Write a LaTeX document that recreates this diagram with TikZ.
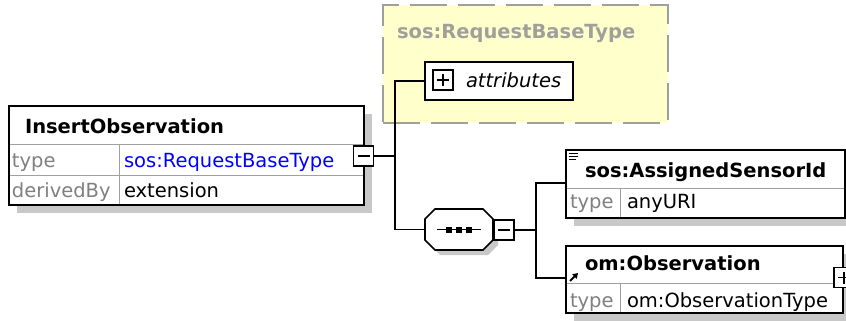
\documentclass[tikz,border=0pt]{standalone}
\usepackage{fontspec}
\setmainfont{DejaVu Sans}
\usetikzlibrary{positioning, arrows.meta, shadows, calc}

\definecolor{shadowgray}{RGB}{200,200,200}
\definecolor{gridgray}{RGB}{160,160,160}
\definecolor{labelgray}{RGB}{128,128,128}
\definecolor{typeblue}{RGB}{0,0,255}
\definecolor{groupyellow}{RGB}{255,255,204}
\definecolor{groupgray}{RGB}{160,160,155}

% octagon round a node, corners cut by \cut
\newcommand{\octpath}[1]{($(#1.north west)+(\cut,0)$) -- ($(#1.north east)+(-\cut,0)$)
    -- ($(#1.north east)+(0,\cut)$) -- ($(#1.south east)+(0,-\cut)$)
    -- ($(#1.south east)+(-\cut,0)$) -- ($(#1.south west)+(\cut,0)$)
    -- ($(#1.south west)+(0,-\cut)$) -- ($(#1.north west)+(0,\cut)$) -- cycle}

\begin{document}
\begin{tikzpicture}[x=1pt, y=-1pt,
    every node/.style={font=\fontsize{19.5}{22}\selectfont, inner sep=0pt, outer sep=0pt},
    txt/.style={anchor=base west},
    elem/.style={rectangle, anchor=north west, draw=black, line width=1.6pt, fill=white,
        drop shadow={shadow xshift=8pt, shadow yshift=-8pt, fill=shadowgray, opacity=1}},
    grid/.style={draw=gridgray, line width=1pt, shorten <=0.8pt, shorten >=0.8pt},
    wire/.style={draw=black, line width=1.6pt},
    group/.style={rectangle, anchor=north west, draw=groupgray, fill=groupyellow,
        line width=1.6pt, dash pattern=on 37pt off 11pt},
    seqbox/.style={rectangle, minimum width=68pt, minimum height=41pt},
    toggle/.style={rectangle, draw=black, fill=white, line width=1.6pt, minimum size=20pt},
    minus/.style={toggle, path picture={
        \draw[line width=1.4pt] ([xshift=-6pt]path picture bounding box.center) -- ([xshift=6pt]path picture bounding box.center);}},
    plus/.style={toggle, path picture={
        \draw[line width=1.4pt] ([xshift=-6pt]path picture bounding box.center) -- ([xshift=6pt]path picture bounding box.center);
        \draw[line width=1.4pt] ([yshift=-6pt]path picture bounding box.center) -- ([yshift=6pt]path picture bounding box.center);}}
]
    \useasboundingbox (0,0) rectangle (846,321);
    \def\cut{10}

    % base type group
    \node[group, minimum width=285pt, minimum height=118pt] (base) at (383,5) {};
    \node[txt, text=groupgray] (basename) at (397,39) {\bfseries sos:RequestBaseType};
    \node[rectangle, anchor=north west, draw=black, fill=white, line width=1.6pt,
        minimum width=148pt, minimum height=38pt] (attr) at (425,62) {};
    \node[plus] (attrplus) at (443,80) {};
    \node[txt] (attrname) at (466,88) {\itshape attributes};

    % InsertObservation element
    \node[elem, minimum width=355pt, minimum height=99pt] (ins) at (9,106) {};
    \draw[grid] ($(ins.north west)+(0,38)$) -- ($(ins.north east)+(0,38)$);
    \draw[grid] ($(ins.north west)+(0,69)$) -- ($(ins.north east)+(0,69)$);
    \draw[grid] ($(ins.north west)+(110,38)$) -- ($(ins.south west)+(110,0)$);
    \node[txt] (insname) at (25,133) {\bfseries InsertObservation};
    \node[txt, text=labelgray] (instype) at (12,167) {type};
    \node[txt, text=typeblue] (instypeval) at (124,167) {sos:RequestBaseType};
    \node[txt, text=labelgray] (insderived) at (12,197) {derivedBy};
    \node[txt] (insderivedval) at (124,197) {extension};
    \node[minus] (insminus) at (363.5,156) {};

    % sequence compositor (octagon with its shadow)
    \node[seqbox] (seqshadow) at (464,234.5) {};
    \node[seqbox] (seq) at (459,229.5) {};
    \fill[shadowgray] \octpath{seqshadow};
    \draw[fill=white, line width=1.6pt] \octpath{seq};
    \draw[line width=1.6pt] ($(seq.center)+(-22,0)$) -- ($(seq.center)+(22,0)$);
    \foreach \dx in {-10,0,10}
    {
        \fill ($(seq.center)+(\dx-3,-3)$) rectangle +(6,6);
    }
    \node[minus] (seqminus) at (504,230) {};

    % child elements
    \node[elem, minimum width=279pt, minimum height=68pt] (sid) at (566,150) {};
    \draw[grid] ($(sid.north west)+(0,38)$) -- ($(sid.north east)+(0,38)$);
    \draw[grid] ($(sid.north west)+(54,38)$) -- ($(sid.south west)+(54,0)$);
    \foreach \y/\len in {153/9,156/9,159/7}
    {
        \draw[line width=1pt] (569,\y) -- +(\len,0);
    }
    \node[txt] (sidname) at (585,177) {\bfseries sos:AssignedSensorId};
    \node[txt, text=labelgray] (sidtype) at (570,208) {type};
    \node[txt] (sidtypeval) at (627,208) {anyURI};

    \node[elem, minimum width=277pt, minimum height=67pt] (obs) at (566,246) {};
    \draw[grid] ($(obs.north west)+(0,37)$) -- ($(obs.north east)+(0,37)$);
    \draw[grid] ($(obs.north west)+(54,37)$) -- ($(obs.south west)+(54,0)$);
    \draw[line width=1.8pt, -{Triangle[length=5pt, width=6pt]}] (570,281) -- (578,273);
    \node[txt] (obsname) at (585,270) {\bfseries om:Observation};
    \node[txt, text=labelgray] (obstype) at (570,307) {type};
    \node[txt] (obstypeval) at (627,307) {om:ObservationType};
    \node[plus] (obsplus) at (844,277.5) {};

    % connectors
    \coordinate (split) at (395,156);
    \coordinate (fork) at (536,230);
    \draw[wire] (insminus.east) -- (split);
    \draw[wire] (attr.west) -| (split) |- (seq.west);
    \draw[wire] (seqminus.east) -- (fork);
    \draw[wire] ([shift={(0,33)}]sid.north west) -| (fork) |- ([shift={(0,32)}]obs.north west);
\end{tikzpicture}
\end{document}
